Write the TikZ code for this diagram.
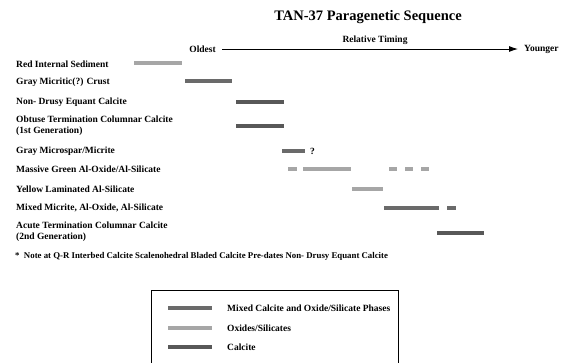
\documentclass[tikz,border=0pt]{standalone}
\usepackage{fontspec}
\setmainfont{Liberation Serif}
\usetikzlibrary{arrows.meta}
\definecolor{oxc}{HTML}{A6A6A6}
\definecolor{mixc}{HTML}{6A6A6A}
\definecolor{calc}{HTML}{585858}
\begin{document}
\begin{tikzpicture}[x=1pt,y=-1pt,
  lbl/.style={anchor=west,inner sep=0pt,font=\bfseries\fontsize{9.5}{11}\selectfont,align=left},
  small/.style={inner sep=0pt,font=\bfseries\fontsize{9.5}{10}\selectfont},
  oxbar/.style={draw=oxc,line width=3.2pt},
  mixbar/.style={draw=mixc,line width=3.2pt},
  calbar/.style={draw=calc,line width=3.2pt}]
\useasboundingbox (0,0) rectangle (569,362);
% title
\node[inner sep=0pt,font=\bfseries\fontsize{14.5}{16}\selectfont] (title) at (368,17) {TAN-37 Paragenetic Sequence};
% timing axis
\node[small,anchor=east] (old) at (216,49) {Oldest};
\node[small,anchor=west] (young) at (524,49) {Younger};
\node[small] (rt) at (375,40) {Relative Timing};
\draw[line width=0.9pt,-{Latex[length=9pt,width=6pt]}] ([xshift=6pt]old.east) -- ([xshift=-6pt]young.west);
% labels
\node[lbl] (l1) at (16,64) {Red Internal Sediment};
\node[lbl] (l2) at (16,82) {Gray Micritic(?) Crust};
\node[lbl] (l3) at (16,102) {Non- Drusy Equant Calcite};
\node[lbl] (l4) at (16,126) {Obtuse Termination Columnar Calcite\\(1st Generation)};
\node[lbl] (l5) at (16,151) {Gray Microspar/Micrite};
\node[lbl] (l6) at (16,169) {Massive Green Al-Oxide/Al-Silicate};
\node[lbl] (l7) at (16,189) {Yellow Laminated Al-Silicate};
\node[lbl] (l8) at (16,208) {Mixed Micrite, Al-Oxide, Al-Silicate};
\node[lbl] (l9) at (16,232) {Acute Termination Columnar Calcite\\(2nd Generation)};
\node[anchor=west,inner sep=0pt,font=\bfseries\fontsize{8.8}{10}\selectfont] (note) at (15,256) {*\ \ Note at Q-R Interbed Calcite Scalenohedral Bladed Calcite Pre-dates Non- Drusy Equant Calcite};
% bars
\draw[oxbar] (134,63) -- (182,63);
\draw[mixbar] (185,81) -- (232,81);
\draw[calbar] (236,102) -- (284,102);
\draw[calbar] (236,126) -- (284,126);
\draw[mixbar] (282,151) -- (305,151);
\node[small,anchor=west] (q) at (310,151) {?};
\draw[oxbar] (288,169) -- (297,169);
\draw[oxbar] (303,169) -- (351,169);
\draw[oxbar] (389,169) -- (397,169);
\draw[oxbar] (405,169) -- (413,169);
\draw[oxbar] (421,169) -- (429,169);
\draw[oxbar] (352,189) -- (383,189);
\draw[mixbar] (384,208) -- (439,208);
\draw[mixbar] (447,208) -- (456,208);
\draw[calbar] (437,233) -- (484,233);
% legend
\draw[line width=0.8pt] (151,363) -- (151,290) -- (398,290) -- (398,363);
\draw[mixbar] (168,308) -- (212,308);
\draw[oxbar] (168,328) -- (212,328);
\draw[calbar] (168,347) -- (212,347);
\node[lbl] (g1) at (227,308) {Mixed Calcite and Oxide/Silicate Phases};
\node[lbl] (g2) at (227,328) {Oxides/Silicates};
\node[lbl] (g3) at (227,347) {Calcite};
\end{tikzpicture}
\end{document}
